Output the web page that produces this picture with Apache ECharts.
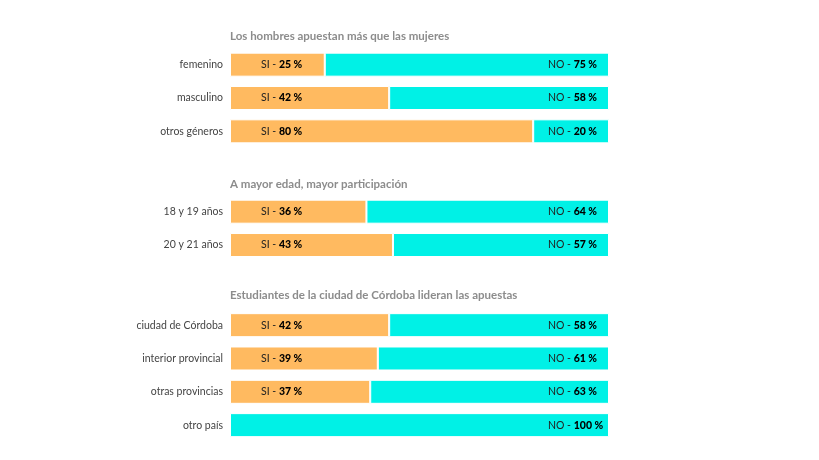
<!DOCTYPE html>
<html><head><meta charset="utf-8">
<script src="https://cdn.jsdelivr.net/npm/echarts@6/dist/echarts.min.js"></script>
<style>html,body{margin:0;padding:0;background:#fff}#c{width:819px;height:460px}</style>
</head><body><div id="c"></div>
<script>
const titles = ["Los hombres apuestan más que las mujeres", "A mayor edad, mayor participación", "Estudiantes de la ciudad de Córdoba lideran las apuestas"];
const cats1 = ["femenino", "masculino", "otros géneros"];
const si1 = [25, 42, 80];
const no1 = [75, 58, 20];
const cats2 = ["18 y 19 años", "20 y 21 años"];
const si2 = [36, 43];
const no2 = [64, 57];
const cats3 = ["ciudad de Córdoba", "interior provincial", "otras provincias", "otro país"];
const si3 = [42, 39, 37, 0];
const no3 = [58, 61, 63, 100];

const FONT = "Lato";
const ORANGE = "#FFBA60";
const CYAN = "#00F1E6";
const groups = [
  {cats: cats1, si: si1, no: no1, top: 48, h: 100, ty: 37},
  {cats: cats2, si: si2, no: no2, top: 195, h: 66.7, ty: 185},
  {cats: cats3, si: si3, no: no3, top: 308.5, h: 133.3, ty: 296}
];
const rich = {
  a: {fontFamily: FONT, fontSize: 10.5, color: "#222", fontWeight: "normal"},
  b: {fontFamily: FONT, fontSize: 10.5, color: "#000", fontWeight: 900}
};
const option = {
  animation: false,
  backgroundColor: "#fff",
  title: groups.map((g, i) => ({
    text: titles[i], left: 230, top: g.ty - 7, padding: 0,
    textStyle: {fontFamily: FONT, fontSize: 11.5, fontWeight: "bold", color: "#8c8c8c"}
  })),
  grid: groups.map(g => ({left: 230, right: 210, top: g.top, height: g.h, containLabel: false})),
  xAxis: groups.map((g, i) => ({type: "value", gridIndex: i, min: 0, max: 100, show: false})),
  yAxis: groups.map((g, i) => ({
    type: "category", gridIndex: i, data: g.cats, inverse: true,
    axisLine: {show: false}, axisTick: {show: false},
    axisLabel: {fontFamily: FONT, fontSize: 10.5, color: "#444", margin: 7}
  })),
  series: []
};
groups.forEach((g, i) => {
  option.series.push({
    type: "bar", stack: "s" + i, xAxisIndex: i, yAxisIndex: i, data: g.si, barWidth: 24,
    itemStyle: {color: ORANGE, borderColor: "#fff", borderWidth: 1},
    label: {show: true, position: "insideLeft", distance: 31,
      formatter: p => p.value > 0 ? "{a|SI - }{b|" + p.value + " %}" : "", rich: rich}
  });
  option.series.push({
    type: "bar", stack: "s" + i, xAxisIndex: i, yAxisIndex: i, data: g.no, barWidth: 24,
    itemStyle: {color: CYAN, borderColor: "#fff", borderWidth: 1},
    label: {show: true, position: "insideRight", distance: 61, align: "left",
      formatter: p => "{a|NO - }{b|" + p.value + " %}", rich: rich}
  });
});
echarts.init(document.getElementById("c")).setOption(option);
</script></body></html>
